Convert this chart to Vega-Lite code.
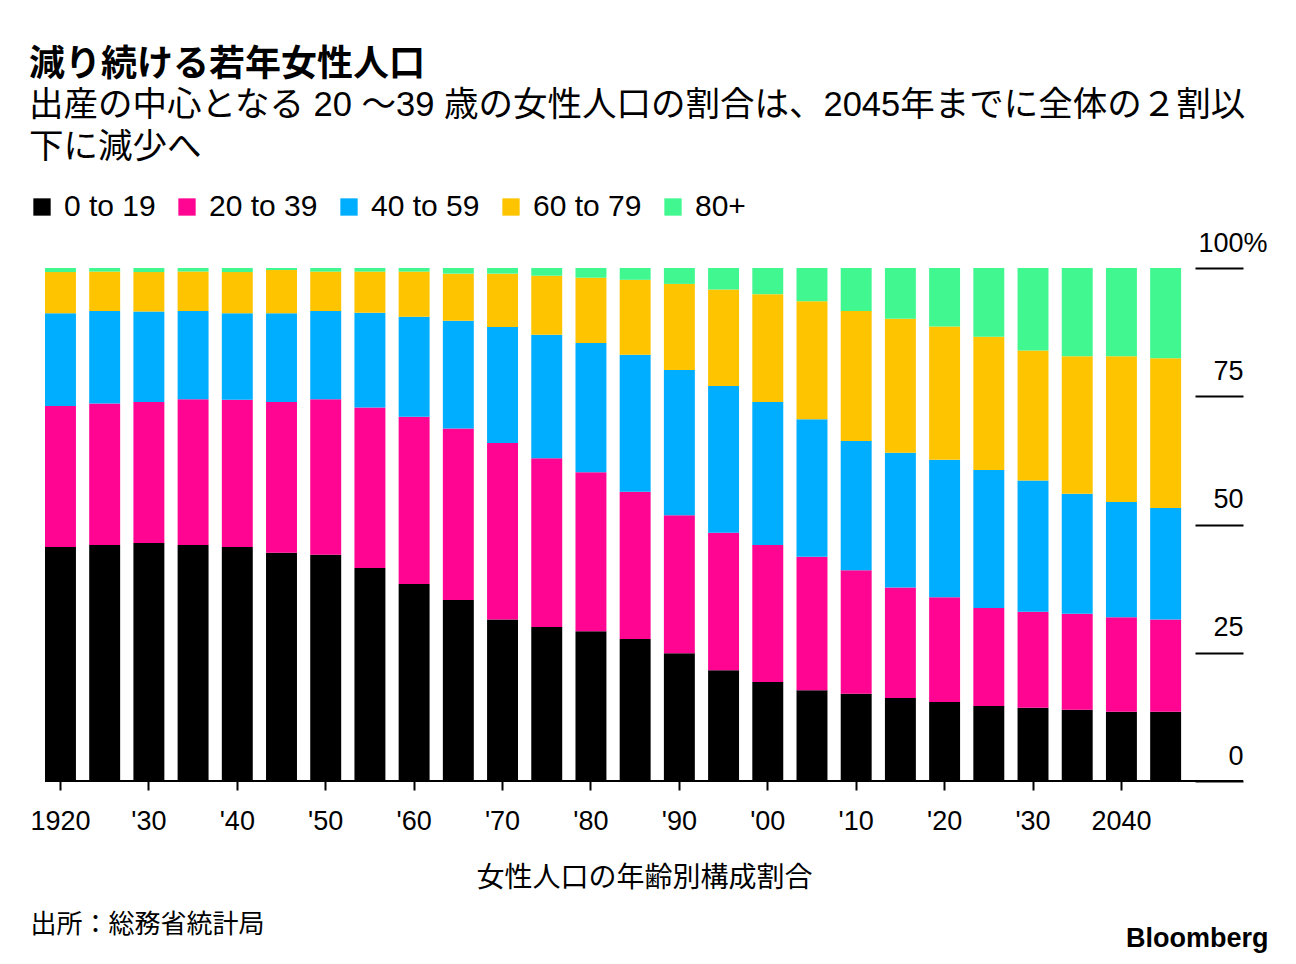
{
  "$schema": "https://vega.github.io/schema/vega-lite/v6.json",
  "width": 1198,
  "height": 513,
  "autosize": {"type": "none"},
  "padding": {"left": 45, "top": 268, "right": 53, "bottom": 183},
  "background": "white",
  "title": {
    "text": "減り続ける若年女性人口",
    "subtitle": ["出産の中心となる 20 ～39 歳の女性人口の割合は、2045年までに全体の２割以", "下に減少へ"],
    "anchor": "start",
    "frame": "group",
    "dx": -16,
    "offset": 27,
    "fontSize": 36,
    "fontWeight": "bold",
    "subtitleFontSize": 34.5,
    "subtitleLineHeight": 42,
    "subtitlePadding": 5,
    "color": "#000000",
    "subtitleColor": "#000000"
  },
  "data": {"values": [
    {"year":1920,"age":"0 to 19","v":45.6},{"year":1920,"age":"20 to 39","v":27.5},{"year":1920,"age":"40 to 59","v":18.1},{"year":1920,"age":"60 to 79","v":8.0},{"year":1920,"age":"80+","v":0.8},
    {"year":1925,"age":"0 to 19","v":46.0},{"year":1925,"age":"20 to 39","v":27.6},{"year":1925,"age":"40 to 59","v":18.0},{"year":1925,"age":"60 to 79","v":7.7},{"year":1925,"age":"80+","v":0.7},
    {"year":1930,"age":"0 to 19","v":46.4},{"year":1930,"age":"20 to 39","v":27.5},{"year":1930,"age":"40 to 59","v":17.6},{"year":1930,"age":"60 to 79","v":7.7},{"year":1930,"age":"80+","v":0.8},
    {"year":1935,"age":"0 to 19","v":46.0},{"year":1935,"age":"20 to 39","v":28.4},{"year":1935,"age":"40 to 59","v":17.2},{"year":1935,"age":"60 to 79","v":7.7},{"year":1935,"age":"80+","v":0.7},
    {"year":1940,"age":"0 to 19","v":45.6},{"year":1940,"age":"20 to 39","v":28.7},{"year":1940,"age":"40 to 59","v":16.9},{"year":1940,"age":"60 to 79","v":8.0},{"year":1940,"age":"80+","v":0.8},
    {"year":1945,"age":"0 to 19","v":44.5},{"year":1945,"age":"20 to 39","v":29.4},{"year":1945,"age":"40 to 59","v":17.3},{"year":1945,"age":"60 to 79","v":8.4},{"year":1945,"age":"80+","v":0.4},
    {"year":1950,"age":"0 to 19","v":44.1},{"year":1950,"age":"20 to 39","v":30.3},{"year":1950,"age":"40 to 59","v":17.2},{"year":1950,"age":"60 to 79","v":7.7},{"year":1950,"age":"80+","v":0.7},
    {"year":1955,"age":"0 to 19","v":41.5},{"year":1955,"age":"20 to 39","v":31.3},{"year":1955,"age":"40 to 59","v":18.5},{"year":1955,"age":"60 to 79","v":8.0},{"year":1955,"age":"80+","v":0.7},
    {"year":1960,"age":"0 to 19","v":38.4},{"year":1960,"age":"20 to 39","v":32.6},{"year":1960,"age":"40 to 59","v":19.5},{"year":1960,"age":"60 to 79","v":8.8},{"year":1960,"age":"80+","v":0.7},
    {"year":1965,"age":"0 to 19","v":35.3},{"year":1965,"age":"20 to 39","v":33.4},{"year":1965,"age":"40 to 59","v":21.0},{"year":1965,"age":"60 to 79","v":9.2},{"year":1965,"age":"80+","v":1.1},
    {"year":1970,"age":"0 to 19","v":31.5},{"year":1970,"age":"20 to 39","v":34.4},{"year":1970,"age":"40 to 59","v":22.6},{"year":1970,"age":"60 to 79","v":10.4},{"year":1970,"age":"80+","v":1.1},
    {"year":1975,"age":"0 to 19","v":30.0},{"year":1975,"age":"20 to 39","v":32.9},{"year":1975,"age":"40 to 59","v":24.1},{"year":1975,"age":"60 to 79","v":11.5},{"year":1975,"age":"80+","v":1.5},
    {"year":1980,"age":"0 to 19","v":29.2},{"year":1980,"age":"20 to 39","v":31.0},{"year":1980,"age":"40 to 59","v":25.2},{"year":1980,"age":"60 to 79","v":12.7},{"year":1980,"age":"80+","v":1.9},
    {"year":1985,"age":"0 to 19","v":27.7},{"year":1985,"age":"20 to 39","v":28.7},{"year":1985,"age":"40 to 59","v":26.7},{"year":1985,"age":"60 to 79","v":14.6},{"year":1985,"age":"80+","v":2.3},
    {"year":1990,"age":"0 to 19","v":24.9},{"year":1990,"age":"20 to 39","v":26.9},{"year":1990,"age":"40 to 59","v":28.3},{"year":1990,"age":"60 to 79","v":16.8},{"year":1990,"age":"80+","v":3.1},
    {"year":1995,"age":"0 to 19","v":21.6},{"year":1995,"age":"20 to 39","v":26.8},{"year":1995,"age":"40 to 59","v":28.6},{"year":1995,"age":"60 to 79","v":18.8},{"year":1995,"age":"80+","v":4.2},
    {"year":2000,"age":"0 to 19","v":19.3},{"year":2000,"age":"20 to 39","v":26.7},{"year":2000,"age":"40 to 59","v":27.9},{"year":2000,"age":"60 to 79","v":21.0},{"year":2000,"age":"80+","v":5.1},
    {"year":2005,"age":"0 to 19","v":17.7},{"year":2005,"age":"20 to 39","v":26.0},{"year":2005,"age":"40 to 59","v":26.8},{"year":2005,"age":"60 to 79","v":23.0},{"year":2005,"age":"80+","v":6.5},
    {"year":2010,"age":"0 to 19","v":17.0},{"year":2010,"age":"20 to 39","v":24.1},{"year":2010,"age":"40 to 59","v":25.2},{"year":2010,"age":"60 to 79","v":25.3},{"year":2010,"age":"80+","v":8.4},
    {"year":2015,"age":"0 to 19","v":16.2},{"year":2015,"age":"20 to 39","v":21.5},{"year":2015,"age":"40 to 59","v":26.3},{"year":2015,"age":"60 to 79","v":26.1},{"year":2015,"age":"80+","v":9.9},
    {"year":2020,"age":"0 to 19","v":15.4},{"year":2020,"age":"20 to 39","v":20.4},{"year":2020,"age":"40 to 59","v":26.8},{"year":2020,"age":"60 to 79","v":26.0},{"year":2020,"age":"80+","v":11.4},
    {"year":2025,"age":"0 to 19","v":14.6},{"year":2025,"age":"20 to 39","v":19.1},{"year":2025,"age":"40 to 59","v":26.9},{"year":2025,"age":"60 to 79","v":26.0},{"year":2025,"age":"80+","v":13.4},
    {"year":2030,"age":"0 to 19","v":14.3},{"year":2030,"age":"20 to 39","v":18.7},{"year":2030,"age":"40 to 59","v":25.6},{"year":2030,"age":"60 to 79","v":25.3},{"year":2030,"age":"80+","v":16.1},
    {"year":2035,"age":"0 to 19","v":13.9},{"year":2035,"age":"20 to 39","v":18.7},{"year":2035,"age":"40 to 59","v":23.4},{"year":2035,"age":"60 to 79","v":26.8},{"year":2035,"age":"80+","v":17.2},
    {"year":2040,"age":"0 to 19","v":13.5},{"year":2040,"age":"20 to 39","v":18.4},{"year":2040,"age":"40 to 59","v":22.5},{"year":2040,"age":"60 to 79","v":28.4},{"year":2040,"age":"80+","v":17.2},
    {"year":2045,"age":"0 to 19","v":13.5},{"year":2045,"age":"20 to 39","v":18.0},{"year":2045,"age":"40 to 59","v":21.7},{"year":2045,"age":"60 to 79","v":29.2},{"year":2045,"age":"80+","v":17.6}
  ]},
  "layer": [
    {
      "mark": {"type": "bar"},
      "encoding": {
        "x": {
          "field": "year",
          "type": "ordinal",
          "scale": {"paddingInner": 0.3, "paddingOuter": 0.7, "align": 0},
          "axis": {
            "values": [1920,1930,1940,1950,1960,1970,1980,1990,2000,2010,2020,2030,2040],
            "labelExpr": "datum.value == 1920 || datum.value == 2040 ? datum.label : \"'\" + substring(datum.label, 2)",
            "labelAngle": 0,
            "labelFontSize": 27,
            "labelPadding": 18,
            "labelColor": "#000000",
            "tickSize": 9,
            "tickWidth": 2,
            "tickColor": "#000000",
            "domain": false,
            "grid": false,
            "title": "女性人口の年齢別構成割合",
            "titleFontSize": 28,
            "titleFontWeight": "normal",
            "titleColor": "#000000",
            "titlePadding": 30
          }
        },
        "y": {
          "field": "v",
          "type": "quantitative",
          "stack": "zero",
          "scale": {"domain": [0, 100], "nice": false},
          "axis": {
            "orient": "right",
            "offset": -48,
            "values": [0, 25, 50, 75, 100],
            "tickSize": 48,
            "tickWidth": 2,
            "tickColor": "#000000",
            "domain": false,
            "grid": false,
            "labelAlign": "right",
            "labelBaseline": "alphabetic",
            "labelOffset": -17,
            "labelPadding": {"condition": {"test": "datum.value == 100", "value": 24}, "value": 0},
            "labelFontSize": 27,
            "labelColor": "#000000",
            "labelExpr": "datum.value == 100 ? '100%' : datum.label",
            "labelFlush": false,
            "labelOverlap": false,
            "title": "Bloomberg",
            "titleAngle": 0,
            "titleX": 73,
            "titleY": 670,
            "titleAlign": "right",
            "titleBaseline": "middle",
            "titleFontSize": 27,
            "titleFontWeight": "bold",
            "titleColor": "#000000"
          }
        },
        "order": {"field": "age", "sort": "ascending"},
        "color": {
          "field": "age",
          "type": "nominal",
          "scale": {
            "domain": ["0 to 19", "20 to 39", "40 to 59", "60 to 79", "80+"],
            "range": ["#000000", "#ff0592", "#00aeff", "#ffc400", "#40f790"]
          },
          "legend": {
            "orient": "none",
            "legendX": -18,
            "legendY": -76,
            "direction": "horizontal",
            "title": null,
            "symbolType": "square",
            "symbolSize": 300,
            "symbolStrokeWidth": 0,
            "labelFontSize": 30,
            "labelOffset": 7,
            "labelColor": "#000000",
            "columnPadding": 16,
            "padding": 0
          }
        }
      }
    },
    {
      "data": {"values": [{}]},
      "mark": {"type": "rule", "color": "#000000", "strokeWidth": 2},
      "encoding": {
        "y": {
          "datum": 0,
          "type": "quantitative",
          "axis": {
            "orient": "left",
            "domain": false,
            "ticks": false,
            "labels": false,
            "grid": false,
            "title": "出所：総務省統計局",
            "titleAngle": 0,
            "titleX": -15,
            "titleY": 656,
            "titleAlign": "left",
            "titleBaseline": "middle",
            "titleFontSize": 26,
            "titleFontWeight": "normal",
            "titleColor": "#000000"
          }
        }
      }
    }
  ],
  "resolve": {"axis": {"y": "independent"}},
  "config": {
    "font": "Liberation Sans, Noto Sans CJK JP",
    "view": {"stroke": null}
  }
}
